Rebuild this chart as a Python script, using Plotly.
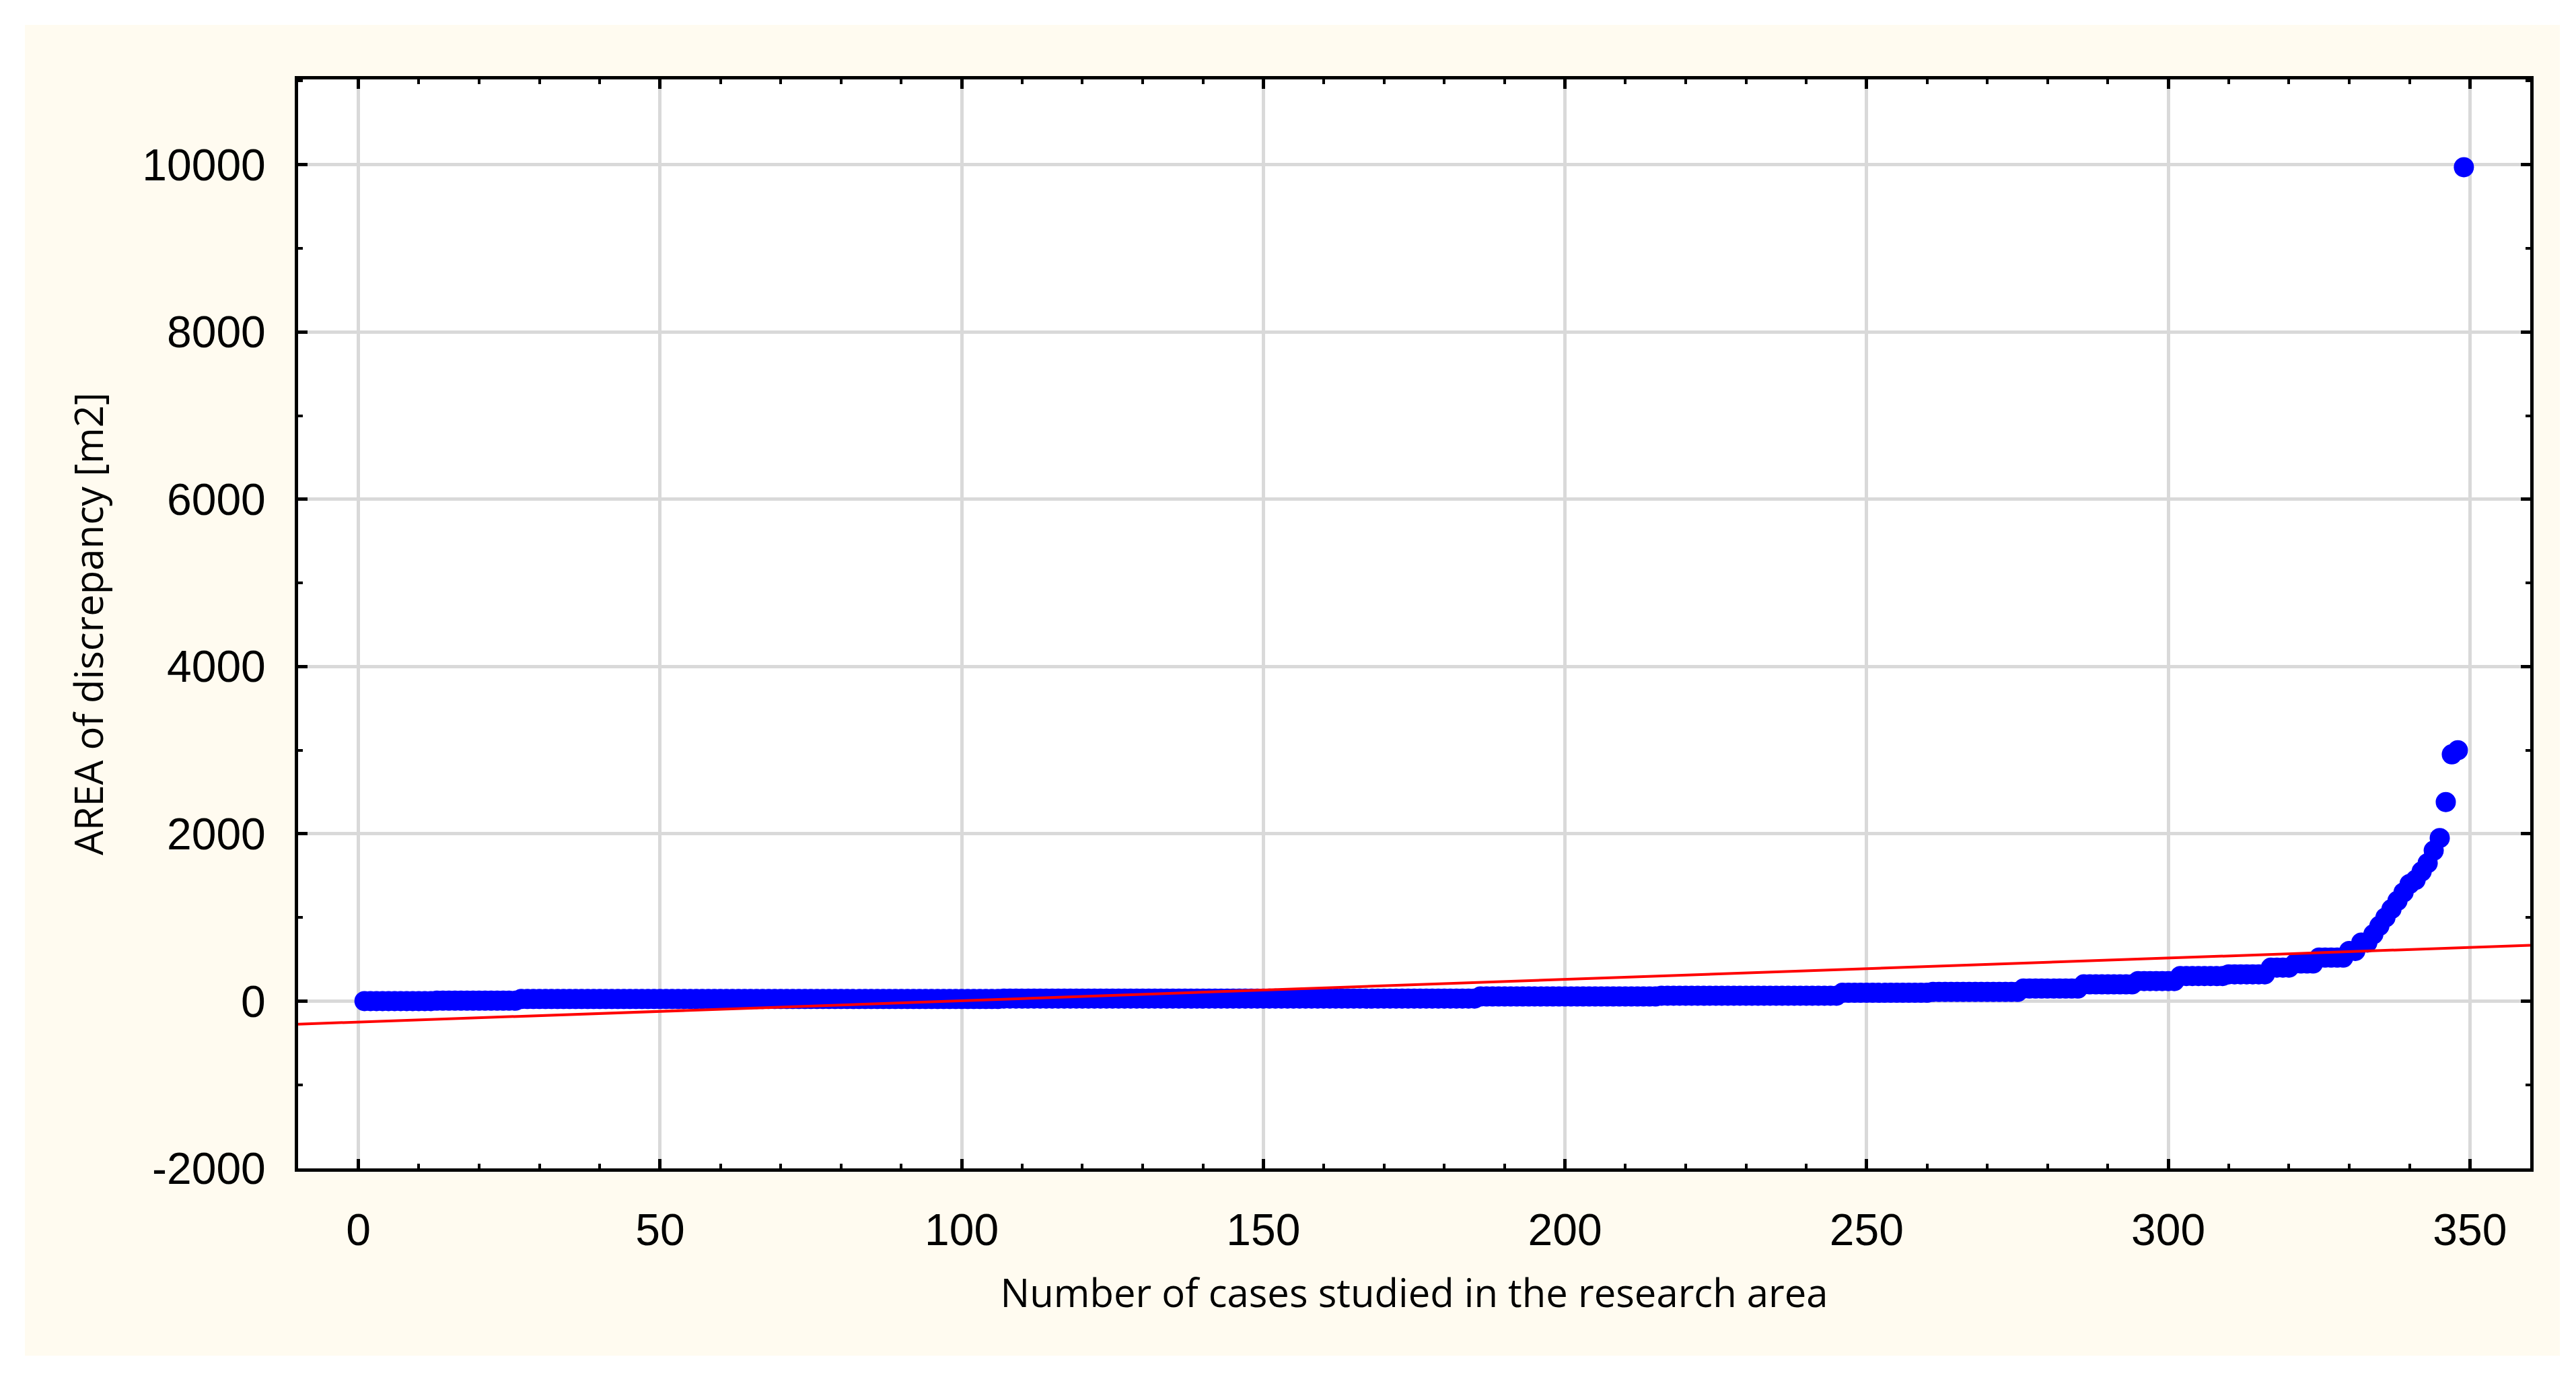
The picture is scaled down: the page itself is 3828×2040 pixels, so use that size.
import numpy as np
import plotly.graph_objects as go

# Sorted AREA of discrepancy values
level_values = [0, 5, 25, 30, 55, 65, 100, 110, 150, 200, 240, 300, 320, 400, 450, 520,
                600, 700, 800, 900, 1000, 1100, 1200, 1300, 1400, 1450, 1550, 1650, 1800, 1950,
                2380, 2950, 3000, 9970]
level_counts = [12, 14, 80, 79, 30, 30, 15, 15, 10, 9, 7, 8, 7, 4, 4, 5,
                2, 2, 1, 1, 1, 1, 1, 1, 1, 1, 1, 1, 1, 1,
                1, 1, 1, 1]
area = np.repeat(level_values, level_counts)
cases = np.arange(1, len(area) + 1)

# Linear fit line (as drawn)
fit_x = [-10, 360]
fit_intercept = -250
fit_slope = 2.55
fit_y = [fit_intercept + fit_slope * v for v in fit_x]

x_ticks = [0, 50, 100, 150, 200, 250, 300, 350]
y_ticks = [-2000, 0, 2000, 4000, 6000, 8000, 10000]
y_labels = ["-2000", "0", "2000", "4000", "6000", "8000", "10000"]

fig = go.Figure()
fig.add_trace(go.Scatter(x=cases, y=area, mode="markers",
                         marker=dict(color="#0000ff", size=30, line=dict(width=0)),
                         showlegend=False))
fig.add_trace(go.Scatter(x=fit_x, y=fit_y, mode="lines",
                         line=dict(color="#ff0000", width=4), showlegend=False))

cream = "#fffbf0"
fig.add_shape(type="rect", xref="paper", yref="paper", x0=-0.1224, x1=1.0133,
              y0=-0.172, y1=1.050, fillcolor=cream, line=dict(width=0), layer="below")
fig.add_shape(type="rect", xref="paper", yref="paper", x0=0, x1=1, y0=0, y1=1,
              fillcolor="white", line=dict(width=0), layer="below")

axis_common = dict(showline=True, linecolor="black", linewidth=5, mirror="allticks",
                   ticks="inside", ticklen=14, tickwidth=5, tickcolor="black",
                   showgrid=True, gridcolor="#d9d9d9", gridwidth=5, zeroline=False,
                   tickfont=dict(family="Liberation Sans", size=66, color="black"))

fig.update_xaxes(range=[-10, 360], tickvals=x_ticks,
                 minor=dict(dtick=10, ticks="inside", ticklen=7, tickwidth=4, tickcolor="black", showgrid=False),
                 ticklabelstandoff=30,
                 title=dict(text="Number of cases studied in the research area",
                            font=dict(family="Open Sans", size=58, color="black"), standoff=40),
                 **axis_common)
fig.update_yaxes(range=[-2000, 11020], tickvals=y_ticks, ticktext=y_labels,
                 minor=dict(dtick=1000, ticks="inside", ticklen=7, tickwidth=4, tickcolor="black", showgrid=False),
                 ticklabelstandoff=30,
                 title=dict(text="AREA of discrepancy [m2]",
                            font=dict(family="Open Sans", size=58, color="black"), standoff=40),
                 **axis_common)

fig.update_layout(width=3828, height=2040, paper_bgcolor="white", plot_bgcolor="white",
                  margin=dict(l=435, r=76, t=110, b=312))
fig.write_html("out.html")
